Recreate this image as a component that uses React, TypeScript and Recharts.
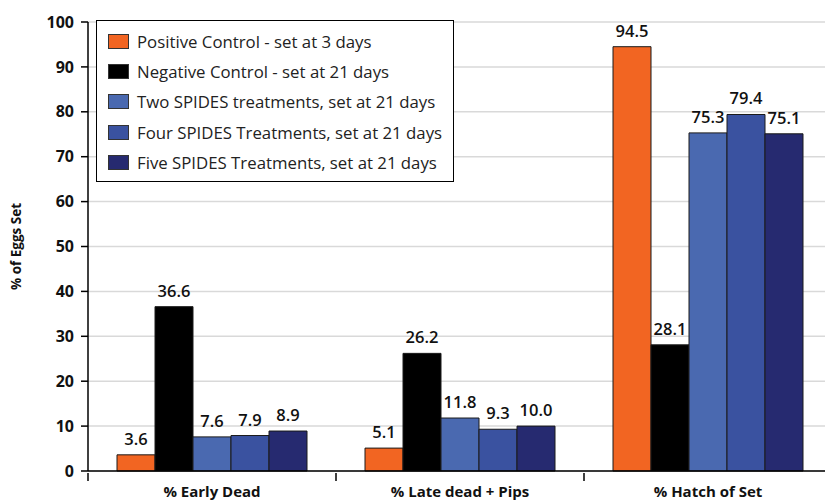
import React from 'react'
import { BarChart, Bar, XAxis, YAxis, CartesianGrid, LabelList } from 'recharts'

const categories = ['% Early Dead', '% Late dead + Pips', '% Hatch of Set']
const positiveControl = [3.6, 5.1, 94.5]
const negativeControl = [36.6, 26.2, 28.1]
const twoSpides = [7.6, 11.8, 75.3]
const fourSpides = [7.9, 9.3, 79.4]
const fiveSpides = [8.9, 10.0, 75.1]
const yTicks = [0, 10, 20, 30, 40, 50, 60, 70, 80, 90, 100]

const series = [
  { key: 'pos', name: 'Positive Control - set at 3 days', color: '#F26522', values: positiveControl },
  { key: 'neg', name: 'Negative Control - set at 21 days', color: '#000000', values: negativeControl },
  { key: 'two', name: 'Two SPIDES treatments, set at 21 days', color: '#4A69B0', values: twoSpides },
  { key: 'four', name: 'Four SPIDES Treatments, set at 21 days', color: '#3A52A0', values: fourSpides },
  { key: 'five', name: 'Five SPIDES Treatments, set at 21 days', color: '#262A70', values: fiveSpides },
]

const data = categories.map((c, i) => {
  const row: Record<string, string | number> = { category: c }
  series.forEach((s) => (row[s.key] = s.values[i]))
  return row
})

const W = 825
const H = 502
const LEFT = 88
const RIGHT = -7 // the plot runs a little past the right edge in the reference
const BAND = (W - RIGHT - LEFT) / categories.length
const FONT = '"Open Sans", sans-serif'

const CategoryTick = (props: any) => {
  const { x, y, payload } = props
  const bx = x - BAND / 2
  return (
    <g>
      <line x1={bx} y1={y} x2={bx} y2={y + 8} stroke="#000" strokeWidth={1.5} />
      <text x={x} y={y + 24} textAnchor="middle" fontFamily={FONT} fontSize={15} fontWeight={700} fill="#111">
        {payload.value}
      </text>
    </g>
  )
}

// legend drawn over the plot, like the boxed legend in the reference
const LegendBox = () => (
  <div
    style={{
      position: 'absolute',
      left: 96,
      top: 20,
      width: 358,
      height: 162,
      border: '1px solid #000',
      background: '#fff',
      boxSizing: 'border-box',
      padding: '5px 0 0 11px',
      fontFamily: FONT,
      fontSize: 16.8,
      color: '#222',
      whiteSpace: 'nowrap',
    }}
  >
    {series.map((s) => (
      <div key={s.key} style={{ display: 'flex', alignItems: 'center', height: 30.4 }}>
        <span
          style={{
            width: 21,
            height: 15,
            background: s.color,
            border: '1px solid #333',
            boxSizing: 'border-box',
            marginRight: 8,
            flex: 'none',
          }}
        />
        <span>{s.name}</span>
      </div>
    ))}
  </div>
)

export default function App() {
  return (
    <div style={{ position: 'absolute', left: 0, top: 0, width: W, height: H, background: '#fff', overflow: 'hidden' }}>
      <BarChart
        width={W}
        height={H}
        data={data}
        margin={{ top: 22, right: RIGHT, bottom: 0, left: 0 }}
        barCategoryGap={29}
        barGap={0}
      >
        <CartesianGrid vertical={false} stroke="#d9d9d9" strokeWidth={1.5} />
        <XAxis
          dataKey="category"
          height={31}
          tickLine={false}
          tickSize={0}
          tick={<CategoryTick />}
          axisLine={{ stroke: '#000', strokeWidth: 1.5 }}
          interval={0}
        />
        <YAxis
          width={LEFT}
          domain={[0, 100]}
          ticks={yTicks}
          interval={0}
          tickSize={7}
          tickMargin={7}
          axisLine={{ stroke: '#000', strokeWidth: 1.5 }}
          tickLine={{ stroke: '#000', strokeWidth: 1.5 }}
          tick={{ fontFamily: FONT, fontSize: 16, fontWeight: 700, fill: '#111' }}
          label={{
            value: '% of Eggs Set',
            angle: -90,
            position: 'insideLeft',
            offset: 16,
            style: { fontFamily: FONT, fontSize: 13.5, fontWeight: 700, fill: '#111', textAnchor: 'middle' },
          }}
        />
        {series.map((s) => (
          <Bar
            key={s.key}
            dataKey={s.key}
            name={s.name}
            fill={s.color}
            stroke="#1a1a1a"
            strokeWidth={1}
            isAnimationActive={false}
          >
            <LabelList
              dataKey={s.key}
              position="top"
              offset={10}
              formatter={(v: any) => Number(v).toFixed(1)}
              style={{ fontFamily: FONT, fontSize: 16.5, fontWeight: 600, fill: '#111' }}
            />
          </Bar>
        ))}
      </BarChart>
      <LegendBox />
    </div>
  )
}
